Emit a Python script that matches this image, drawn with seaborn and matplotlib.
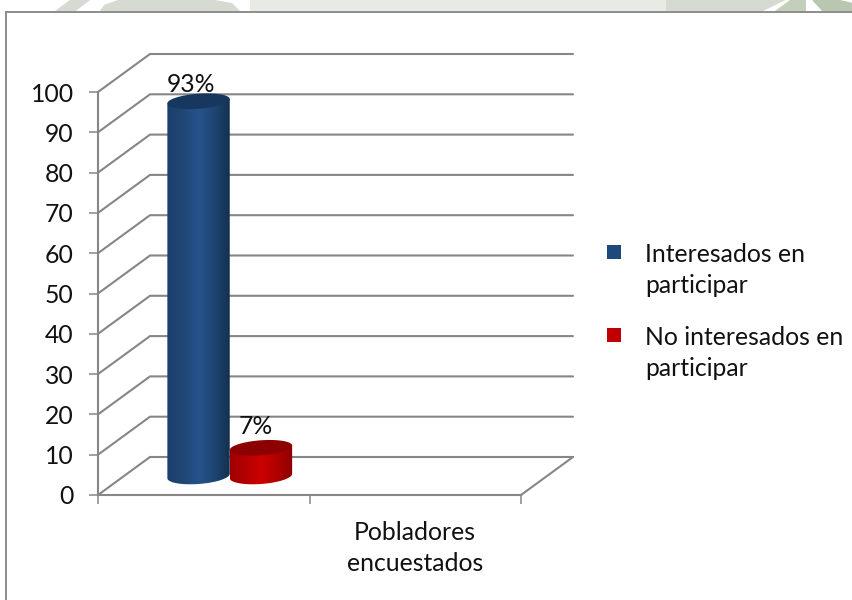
import numpy as np
import pandas as pd
import matplotlib
matplotlib.use("Agg")
import matplotlib.pyplot as plt
import seaborn as sns
from matplotlib.colors import LinearSegmentedColormap
from matplotlib.legend_handler import HandlerPatch
from matplotlib.patches import Polygon, Rectangle

categories = ["", "Pobladores\nencuestados"]
series = ["Interesados en\nparticipar", "No interesados en\nparticipar"]
values = [93, 7]
y_ticks = [0, 10, 20, 30, 40, 50, 60, 70, 80, 90, 100]
bar_colors = ["#1F497D", "#C00000"]
top_colors = ["#17375E", "#8C0000"]
shades = [["#1B3F6B", "#204774", "#26538C", "#1F4673", "#14304F"],
          ["#A00000", "#B40000", "#CC0000", "#B00000", "#8C0000"]]

W, H = 853, 600
GRAY = "#868686"
FS = 17.8
# depth of the fake 3d box, in pixels
DX, DY = 52, 38

sns.set_theme(style="white")
plt.rcParams['font.family'] = ['Lato', 'DejaVu Sans']
plt.rcParams['font.size'] = FS
plt.rcParams['text.color'] = '#111111'

fig = plt.figure(figsize=(W / 100, H / 100), dpi=100, facecolor="white")


def pixel_axes(zorder):
    a = fig.add_axes([0, 0, 1, 1], zorder=zorder)
    a.set_xlim(0, W)
    a.set_ylim(H, 0)
    a.axis("off")
    return a


back = pixel_axes(0)
front = pixel_axes(2)
ax = fig.add_axes([98 / W, 1 - 495 / H, 423 / W, 403 / H], zorder=1)
ax.patch.set_visible(False)

df = pd.DataFrame({"categoria": [categories[0]] * 2, "serie": series, "valor": values})
sns.barplot(data=df, x="categoria", y="valor", hue="serie", order=categories,
            hue_order=series, palette=bar_colors, width=0.59, gap=0, saturation=1,
            ax=ax)

ax.set_xlim(-0.5, 1.5)
ax.set_ylim(0, 100)
ax.set_xlabel("")
ax.set_ylabel("")
ax.set_yticks(y_ticks)
ax.set_xticks([-0.5, 0.5, 1.5], minor=True)
ax.tick_params(axis="y", length=6.5, width=1.1, color=GRAY, pad=11, labelsize=FS,
               left=True, labelcolor="#111111")
ax.tick_params(axis="x", which="major", length=0, pad=18.5, labelsize=FS, labelcolor="#111111")
ax.tick_params(axis="x", which="minor", length=6.5, width=1.1, color=GRAY, bottom=True)
for lab in ax.get_xticklabels():
    lab.set_linespacing(1.46)
sns.despine(ax=ax)
for side in ["left", "bottom"]:
    ax.spines[side].set_color(GRAY)
    ax.spines[side].set_linewidth(1.5)

fig.canvas.draw()


def to_px(x, y):
    px, py = ax.transData.transform((x, y))
    return px, H - py


# bits of the page watermark showing above the frame
for pts, col in [
    ([(55, 11), (76, 11), (90, 0), (70, 0)], "#D5DBD2"),
    ([(100, 11), (240, 11), (232, 3), (215, 0), (118, 0), (104, 5)], "#D5DBD2"),
    ([(250, 11), (666, 11), (666, 0), (250, 0)], "#E8EBE5"),
    ([(666, 11), (763, 11), (786, 0), (666, 0)], "#D5DBD2"),
    ([(775, 11), (806, 11), (806, 0), (790, 0)], "#C3CEBB"),
    ([(822, 11), (853, 11), (853, 3), (840, 0), (812, 0)], "#B9C6B0"),
]:
    back.add_patch(Polygon(pts, closed=True, fc=col, ec="none"))

# frame running off the picture on the right and at the bottom
back.add_patch(Rectangle((6.5, 11.5), W, H, fc="white", ec="#8C8C8C", lw=1.4))

# walls of the box, one bent line per tick
x_left = to_px(-0.5, 0)[0]
x_right = to_px(1.5, 0)[0]
for v in y_ticks:
    y = to_px(0, v)[1]
    back.plot([x_left, x_left + DX, x_right + DX], [y, y - DY, y - DY],
              color=GRAY, lw=1.5, solid_joinstyle="miter")
y0 = to_px(0, 0)[1]
back.plot([x_right, x_right + DX], [y0, y0 - DY], color=GRAY, lw=1.5)


def cylinder_outline(cx, a, b, yy, tilt, lower_only=True):
    t = np.linspace(np.pi, 0, 60) if lower_only else np.linspace(0, 2 * np.pi, 120)
    xs = cx + a * np.cos(t)
    ys = yy + b * np.sin(t) - tilt * a * np.cos(t)
    return np.column_stack([xs, ys])


label_offsets = [(18, 24), (21, 29)]
for i, cont in enumerate(ax.containers):
    bar = cont.patches[0]
    x0 = to_px(bar.get_x(), 0)[0] + DX / 2
    x1 = to_px(bar.get_x() + bar.get_width(), 0)[0] + DX / 2
    y_bot = to_px(0, 0)[1] - DY / 2
    y_top = to_px(0, bar.get_height())[1] - DY / 2
    cx, a = (x0 + x1) / 2, (x1 - x0) / 2

    top = cylinder_outline(cx, a, 7.5, y_top, 0.07, lower_only=False)
    lower = cylinder_outline(cx, a, 8, y_bot, 0.07)
    body = np.vstack([[[x0, y_top + 0.07 * a]], lower, [[x1, y_top - 0.07 * a]]])
    clip = Polygon(body, closed=True, transform=front.transData, fc="none", ec="none")
    front.add_patch(clip)
    grad = LinearSegmentedColormap.from_list("g", shades[i])
    img = front.imshow(np.linspace(0, 1, 128)[None, :], cmap=grad, aspect="auto",
                       extent=[x0, x1, y_bot + 12, y_top - 8], zorder=2 + i * 2)
    img.set_clip_path(clip)
    front.add_patch(Polygon(top, closed=True, fc=top_colors[i], ec="none", zorder=3 + i * 2))

    anns = ax.bar_label(cont, fmt="%g%%", fontsize=FS, padding=0, color="#111111")
    anns[0].xyann = (label_offsets[i][0] * 0.72, label_offsets[i][1] * 0.72)
front.set_xlim(0, W)
front.set_ylim(H, 0)


class TopAligned(HandlerPatch):
    # puts the square next to the first line of a two line label
    def create_artists(self, legend, orig, xd, yd, width, height, fontsize, trans):
        p = Rectangle((0, 15), 13.5 * 0.72, 13.5 * 0.72, fc=orig.get_facecolor(), ec="none",
                      transform=trans)
        return [p]


handles = [c.patches[0] for c in ax.containers]
for h in handles:
    h.set_visible(False)
leg = ax.legend(handles, series, loc="upper left", bbox_to_anchor=(607 / W, 1 - 243 / H),
                bbox_transform=fig.transFigure, frameon=False, fontsize=FS,
                handler_map={h: TopAligned() for h in handles},
                handlelength=1.0, handletextpad=0.53, labelspacing=1.17, borderpad=0, borderaxespad=0)
for t in leg.get_texts():
    t.set_linespacing(1.43)

fig.savefig("out.png", dpi=100)
